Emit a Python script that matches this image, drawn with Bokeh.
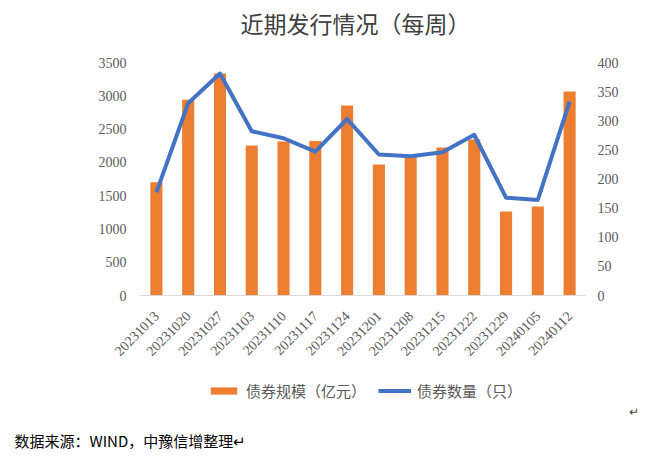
import math
from bokeh.plotting import figure
from bokeh.layouts import column
from bokeh.models import (Range1d, LinearAxis, SingleIntervalTicker, Legend, LegendItem,
                          Label, FactorRange, ColumnDataSource)
from bokeh.embed import file_html
from bokeh.resources import INLINE

dates = ["20231013", "20231020", "20231027", "20231103", "20231110", "20231117", "20231124",
         "20231201", "20231208", "20231215", "20231222", "20231229", "20240105", "20240112"]
scale = [1700, 2940, 3335, 2255, 2313, 2320, 2855, 1968, 2078, 2223, 2343, 1262, 1337, 3064]
count = [177, 330, 381, 282, 270, 247, 303, 242, 239, 246, 276, 168, 164, 333]

title_text = "近期发行情况（每周）"
bar_name = "债券规模（亿元）"
line_name = "债券数量（只）"
source_text = "数据来源：WIND，中豫信增整理↵"

W = 653
BAR_COLOR = "#ED7D31"
LINE_COLOR = "#4472C4"
tick_font = "Liberation Serif"
cjk_font = "Noto Sans CJK SC"
lab_col = "#595959"


def blank(h):
    f = figure(width=W, height=h, x_range=Range1d(0, W), y_range=Range1d(0, h),
               x_axis_type=None, y_axis_type=None, output_backend="svg",
               toolbar_location=None, min_border=0, frame_align=False)
    f.outline_line_color = None
    f.xgrid.grid_line_color = None
    f.ygrid.grid_line_color = None
    f.background_fill_color = "white"
    f.border_fill_color = "white"
    return f


# ---- title strip ----
top = blank(45)
top.add_layout(Label(x=355, y=23, x_units="screen", y_units="screen", text=title_text,
                     text_font=cjk_font, text_font_size="23px", text_color="#404040",
                     text_align="center", text_baseline="middle"))

# ---- main chart ----
p = figure(width=W, height=325, x_range=FactorRange(*dates), y_range=Range1d(0, 3500),
           output_backend="svg", toolbar_location=None, frame_align=False,
           min_border_left=140, min_border_right=68, min_border_top=17, min_border_bottom=75)
p.outline_line_color = None
p.xgrid.grid_line_color = None
p.ygrid.grid_line_color = None
p.background_fill_color = "white"
p.border_fill_color = "white"
p.extra_y_ranges = {"cnt": Range1d(0, 400)}

p.vbar(x=dates, top=scale, width=0.38, color=BAR_COLOR, line_color=None)
p.line(x=dates, y=count, y_range_name="cnt", line_color=LINE_COLOR, line_width=4,
       line_join="round")

xa = p.xaxis[0]
xa.axis_line_color = "#D9D9D9"
xa.axis_line_width = 1
xa.major_tick_line_color = None
xa.major_tick_out = 0
xa.major_label_orientation = math.pi / 4
xa.major_label_text_font = tick_font
xa.major_label_text_font_size = "14px"
xa.major_label_text_color = lab_col
xa.major_label_standoff = 18

ya = p.yaxis[0]
ya.ticker = SingleIntervalTicker(interval=500)
ya.axis_line_color = None
ya.major_tick_line_color = None
ya.minor_tick_line_color = None
ya.major_label_text_font = tick_font
ya.major_label_text_font_size = "14px"
ya.major_label_text_color = lab_col
ya.major_label_standoff = 8

ra = LinearAxis(y_range_name="cnt", ticker=SingleIntervalTicker(interval=50))
ra.axis_line_color = None
ra.major_tick_line_color = None
ra.minor_tick_line_color = None
ra.major_label_text_font = tick_font
ra.major_label_text_font_size = "14px"
ra.major_label_text_color = lab_col
ra.major_label_standoff = 6
p.add_layout(ra, "right")

# ---- legend & source strip ----
bot = blank(83)
nan = float("nan")
proxy = ColumnDataSource(data=dict(x=[nan], y=[nan]))  # legend swatch proxies, never drawn
lb = bot.vbar(x="x", top="y", width=1, source=proxy, color=BAR_COLOR, line_color=None)
ll = bot.line(x="x", y="y", source=proxy, line_color=LINE_COLOR, line_width=4)
legend = Legend(items=[LegendItem(label=bar_name, renderers=[lb]),
                       LegendItem(label=line_name, renderers=[ll])],
                orientation="horizontal", location=(207, 52),
                label_text_font=cjk_font, label_text_font_size="15px",
                label_text_color=lab_col, glyph_width=33, glyph_height=9,
                label_standoff=6, spacing=12, padding=0, margin=0,
                border_line_color=None, background_fill_alpha=0)
bot.add_layout(legend, "center")
bot.add_layout(Label(x=633, y=43, x_units="screen", y_units="screen", text="↵",
                     text_font=cjk_font, text_font_size="12px", text_color="#404040",
                     text_align="center", text_baseline="middle"))
bot.add_layout(Label(x=14, y=13, x_units="screen", y_units="screen", text=source_text,
                     text_font=cjk_font, text_font_size="15px", text_color="#000000",
                     text_align="left", text_baseline="middle"))

layout = column(top, p, bot, spacing=0)
open("out.html", "w").write(file_html(layout, INLINE))
